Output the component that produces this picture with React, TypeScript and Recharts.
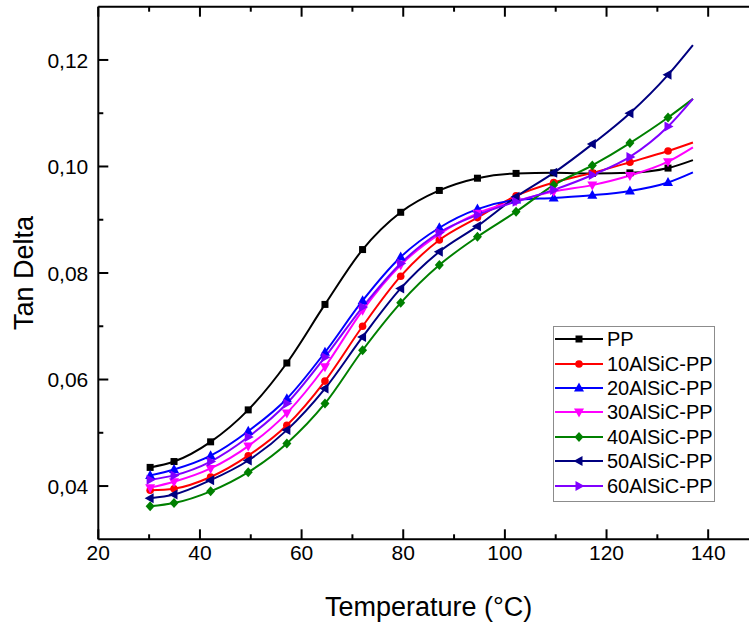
import { LineChart, Line, XAxis, YAxis, Legend, Label } from "recharts"

// temperatures (°C) where the markers sit; last value is the curve end (no marker)
const temperature = [30.2, 34.9, 42.1, 49.5, 57.1, 64.6, 72.0, 79.5, 87.1, 94.6, 102.2, 109.6, 117.2, 124.6, 132.1, 137.0]

const ppValues = [0.0435, 0.0446, 0.0483, 0.0543, 0.0631, 0.0741, 0.0844, 0.0914, 0.0955, 0.0978, 0.0987, 0.0988, 0.0987, 0.0988, 0.0997, 0.1012]
const alsic10Values = [0.0392, 0.0395, 0.0417, 0.0457, 0.0514, 0.0597, 0.07, 0.0794, 0.0862, 0.0904, 0.0945, 0.097, 0.0988, 0.1008, 0.1029, 0.1045]
const alsic20Values = [0.042, 0.0431, 0.0457, 0.0503, 0.0564, 0.0651, 0.0748, 0.083, 0.0885, 0.092, 0.0937, 0.0941, 0.0946, 0.0954, 0.097, 0.0989]
const alsic30Values = [0.0397, 0.0408, 0.0433, 0.0475, 0.0537, 0.0624, 0.073, 0.0815, 0.0873, 0.0912, 0.0935, 0.0953, 0.0965, 0.0983, 0.1009, 0.1036]
const alsic40Values = [0.0362, 0.0368, 0.039, 0.0426, 0.048, 0.0555, 0.0655, 0.0744, 0.0815, 0.0868, 0.0915, 0.0965, 0.1002, 0.1044, 0.1092, 0.1127]
const alsic50Values = [0.0377, 0.0384, 0.0411, 0.0448, 0.0505, 0.0583, 0.068, 0.0771, 0.084, 0.0888, 0.0943, 0.0988, 0.1042, 0.11, 0.1172, 0.1228]
const alsic60Values = [0.0412, 0.042, 0.0446, 0.0492, 0.0555, 0.0642, 0.0736, 0.0818, 0.0876, 0.0909, 0.0934, 0.0956, 0.0984, 0.1018, 0.1075, 0.1127]

const seriesNames = ["PP", "10AlSiC-PP", "20AlSiC-PP", "30AlSiC-PP", "40AlSiC-PP", "50AlSiC-PP", "60AlSiC-PP"]

const xTicks = [20, 30, 40, 50, 60, 70, 80, 90, 100, 110, 120, 130, 140, 150]
const yTicks = [0.04, 0.05, 0.06, 0.07, 0.08, 0.09, 0.1, 0.11, 0.12]

const series = [
  { key: "pp", name: seriesNames[0], values: ppValues, color: "#000000", shape: "square" },
  { key: "s10", name: seriesNames[1], values: alsic10Values, color: "#ff0000", shape: "circle" },
  { key: "s20", name: seriesNames[2], values: alsic20Values, color: "#0000ff", shape: "up" },
  { key: "s30", name: seriesNames[3], values: alsic30Values, color: "#ff00ff", shape: "down" },
  { key: "s40", name: seriesNames[4], values: alsic40Values, color: "#008000", shape: "diamond" },
  { key: "s50", name: seriesNames[5], values: alsic50Values, color: "#000080", shape: "left" },
  { key: "s60", name: seriesNames[6], values: alsic60Values, color: "#8000ff", shape: "right" },
]

const data = temperature.map((t, i) => {
  const row: Record<string, number> = { t }
  series.forEach((s) => {
    row[s.key] = s.values[i]
  })
  return row
})

const FONT = '"Liberation Sans", Arial, sans-serif'
const TICK_FONT = 21

function Marker({ shape, cx, cy, color }: { shape: string; cx: number; cy: number; color: string }) {
  if (shape === "square") return <rect x={cx - 3.5} y={cy - 3.5} width={7} height={7} fill={color} />
  if (shape === "circle") return <circle cx={cx} cy={cy} r={3.8} fill={color} />
  let pts = ""
  if (shape === "up") pts = `${cx},${cy - 5.5} ${cx - 5},${cy + 3.5} ${cx + 5},${cy + 3.5}`
  if (shape === "down") pts = `${cx},${cy + 5.5} ${cx - 5},${cy - 3.5} ${cx + 5},${cy - 3.5}`
  if (shape === "left") pts = `${cx - 5.5},${cy} ${cx + 3.5},${cy - 5} ${cx + 3.5},${cy + 5}`
  if (shape === "right") pts = `${cx + 5.5},${cy} ${cx - 3.5},${cy - 5} ${cx - 3.5},${cy + 5}`
  if (shape === "diamond") pts = `${cx},${cy - 5} ${cx + 4.5},${cy} ${cx},${cy + 5} ${cx - 4.5},${cy}`
  return <polygon points={pts} fill={color} />
}

const isMajorX = (v: number) => v % 20 === 0
const isMajorY = (v: number) => Math.round(v * 100) % 2 === 0

function LeftTick(props: any) {
  const { x, y, payload } = props
  const v = payload.value
  const major = isMajorY(v)
  const ax = x + 10
  return (
    <g>
      <line x1={ax} x2={ax + (major ? 10 : 5)} y1={y} y2={y} stroke="#000" strokeWidth={2} />
      {major && (
        <text x={x} y={y} dy="0.36em" textAnchor="end" fontSize={TICK_FONT} fontFamily={FONT} fill="#000">
          {v.toFixed(2).replace(".", ",")}
        </text>
      )}
    </g>
  )
}

function RightTick(props: any) {
  const { x, y, payload } = props
  const len = isMajorY(payload.value) ? 10 : 5
  return <line x1={x} x2={x - len} y1={y} y2={y} stroke="#000" strokeWidth={2} />
}

function BottomTick(props: any) {
  const { x, y, payload } = props
  const v = payload.value
  const major = isMajorX(v)
  const ay = y - 6
  return (
    <g>
      <line x1={x} x2={x} y1={ay} y2={ay - (major ? 10 : 5)} stroke="#000" strokeWidth={2} />
      {major && (
        <text x={x} y={y} dy="0.71em" textAnchor="middle" fontSize={TICK_FONT} fontFamily={FONT} fill="#000">
          {v}
        </text>
      )}
    </g>
  )
}

function TopTick(props: any) {
  const { x, y, payload } = props
  const len = isMajorX(payload.value) ? 10 : 5
  return <line x1={x} x2={x} y1={y} y2={y + len} stroke="#000" strokeWidth={2} />
}

function LegendBox() {
  return (
    <div
      style={{
        width: 162,
        boxSizing: "border-box",
        border: "1px solid #8c8c8c",
        background: "#fff",
        padding: "0 0 3px 0",
        fontFamily: FONT,
        fontSize: 20,
        color: "#000",
      }}
    >
      {series.map((s) => (
        <div key={s.key} style={{ display: "flex", alignItems: "center", height: 24.4 }}>
          <svg width={48} height={20} style={{ marginLeft: 1, flexShrink: 0 }}>
            <line x1={0} x2={48} y1={10} y2={10} stroke={s.color} strokeWidth={2} />
            <Marker shape={s.shape} cx={24} cy={10} color={s.color} />
          </svg>
          <span style={{ marginLeft: 4, lineHeight: "20px", whiteSpace: "nowrap" }}>{s.name}</span>
        </div>
      ))}
    </div>
  )
}

const axisLine = { stroke: "#000", strokeWidth: 2 }

export default function App() {
  return (
    <div style={{ position: "absolute", left: 0, top: 0, width: 749, height: 624, overflow: "hidden", background: "#fff" }}>
      <LineChart width={800} height={624} data={data} margin={{ top: 5.7, right: 40, bottom: 24.7, left: 38.3 }}>
        <XAxis
          xAxisId="bottom"
          dataKey="t"
          type="number"
          domain={[20, 150]}
          ticks={xTicks}
          allowDataOverflow
          height={60}
          tickSize={0}
          tickMargin={6}
          tickLine={false}
          axisLine={axisLine}
          tick={<BottomTick />}
          interval={0}
        >
          <Label
            content={(p: any) => {
              const vb = p.viewBox
              return (
                <text x={vb.x + vb.width / 2} y={vb.y + 77} textAnchor="middle" fontSize={27} fontFamily={FONT} fill="#000">
                  Temperature (°C)
                </text>
              )
            }}
          />
        </XAxis>
        <XAxis
          xAxisId="top"
          orientation="top"
          dataKey="t"
          type="number"
          domain={[20, 150]}
          ticks={xTicks}
          allowDataOverflow
          height={1}
          tickSize={0}
          tickMargin={0}
          tickLine={false}
          axisLine={axisLine}
          tick={<TopTick />}
          interval={0}
        />
        <YAxis
          yAxisId="left"
          type="number"
          domain={[0.03, 0.13]}
          ticks={yTicks}
          allowDataOverflow
          width={60}
          tickSize={0}
          tickMargin={10}
          tickLine={false}
          axisLine={axisLine}
          tick={<LeftTick />}
          interval={0}
        >
          <Label
            content={(p: any) => {
              const vb = p.viewBox
              const cx = vb.x + vb.width - 65
              const cy = vb.y + vb.height / 2
              return (
                <text x={0} y={0} transform={`translate(${cx},${cy}) rotate(-90)`} textAnchor="middle" fontSize={27} fontFamily={FONT} fill="#000">
                  Tan Delta
                </text>
              )
            }}
          />
        </YAxis>
        <YAxis
          yAxisId="right"
          orientation="right"
          type="number"
          domain={[0.03, 0.13]}
          ticks={yTicks}
          allowDataOverflow
          width={1}
          tickSize={0}
          tickMargin={0}
          tickLine={false}
          axisLine={axisLine}
          tick={<RightTick />}
          interval={0}
        />
        <Legend
          layout="vertical"
          align="center"
          verticalAlign="middle"
          wrapperStyle={{ left: 553, top: 326, width: 162, height: "auto" }}
          content={() => <LegendBox />}
        />
        {series.map((s) => (
          <Line
            key={s.key}
            xAxisId="bottom"
            yAxisId="left"
            dataKey={s.key}
            name={s.name}
            type="monotone"
            stroke={s.color}
            strokeWidth={2}
            isAnimationActive={false}
            activeDot={false}
            dot={(props: any) => {
              const { cx, cy, index } = props
              if (index === temperature.length - 1) return <g key={`${s.key}-${index}`} />
              return <Marker key={`${s.key}-${index}`} shape={s.shape} cx={cx} cy={cy} color={s.color} />
            }}
          />
        ))}
      </LineChart>
    </div>
  )
}
